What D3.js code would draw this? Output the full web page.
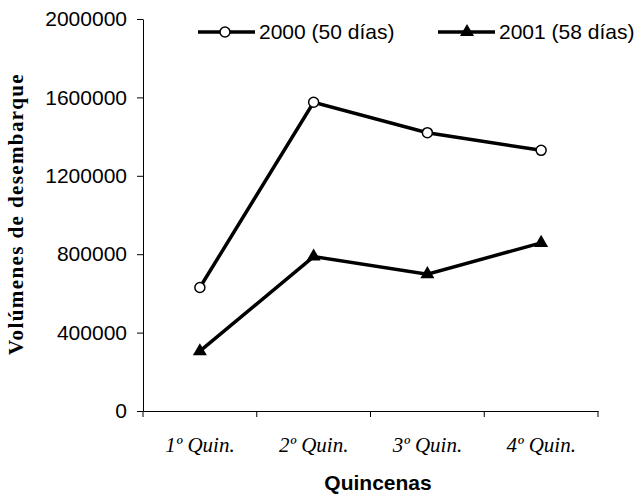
<!DOCTYPE html>
<html>
<head>
<meta charset="utf-8">
<script src="https://cdn.jsdelivr.net/npm/d3@7"></script>
<style>
	body { margin: 0; background: #fff; }
	svg { display: block; }
</style>
</head>
<body>
<div id="chart"></div>
<script>
var categories = ['1º Quin.', '2º Quin.', '3º Quin.', '4º Quin.'];
var seriesNames = ['2000 (50 días)', '2001 (58 días)'];
var values2000 = [630000, 1575000, 1420000, 1330000];
var values2001 = [305000, 788000, 698000, 858000];
var yTicks = [0, 400000, 800000, 1200000, 1600000, 2000000];

var width = 641, height = 498;
var margin = { left: 143, right: 43, top: 19, bottom: 87 };
var sans = 'Arial, "Liberation Sans", sans-serif';
var serif = '"Times New Roman", "Liberation Serif", serif';

var svg = d3.select('#chart').append('svg')
	.attr('width', width)
	.attr('height', height);

var x = d3.scaleBand()
	.domain(categories)
	.range([margin.left, width - margin.right]);

var y = d3.scaleLinear()
	.domain([0, 2000000])
	.range([height - margin.bottom, margin.top]);

// y axis
var yAxis = svg.append('g')
	.attr('transform', 'translate(' + margin.left + ',0)')
	.call(d3.axisLeft(y).tickValues(yTicks).tickSize(6).tickSizeOuter(0).tickFormat(d3.format('d')));
yAxis.selectAll('text')
	.attr('x', -16)
	.style('font-family', sans)
	.style('font-size', '21px')
	.attr('fill', '#000');

// x axis
var xAxis = svg.append('g')
	.attr('transform', 'translate(0,' + (height - margin.bottom) + ')')
	.call(d3.axisBottom(x).tickSize(0).tickSizeOuter(0));
xAxis.selectAll('text')
	.attr('dy', 0)
	.attr('y', 41)
	.style('font-family', serif)
	.style('font-style', 'italic')
	.style('font-size', '21px')
	.attr('fill', '#000');
// tick marks on band boundaries
xAxis.selectAll('.bound')
	.data(categories.concat(['end']))
	.enter().append('line')
	.attr('class', 'bound')
	.attr('x1', function(d, i){ return margin.left + i * x.bandwidth(); })
	.attr('x2', function(d, i){ return margin.left + i * x.bandwidth(); })
	.attr('y1', 0)
	.attr('y2', 6)
	.attr('stroke', '#000');
svg.selectAll('.domain').attr('stroke', '#000');

// axis titles
svg.append('text')
	.attr('transform', 'translate(23,214) rotate(-90)')
	.attr('text-anchor', 'middle')
	.style('font-family', serif)
	.style('font-weight', 'bold')
	.style('font-size', '21px')
	.style('letter-spacing', '1.4px')
	.text('Volúmenes de desembarque');

svg.append('text')
	.attr('x', 378)
	.attr('y', 490)
	.attr('text-anchor', 'middle')
	.style('font-family', sans)
	.style('font-weight', 'bold')
	.style('font-size', '21px')
	.text('Quincenas');

var line = d3.line()
	.x(function(d, i){ return x(categories[i]) + x.bandwidth() / 2; })
	.y(function(d){ return y(d); });

var triangle = d3.symbol().type(d3.symbolTriangle).size(85);

// series 2001 (triangles)
svg.append('path')
	.datum(values2001)
	.attr('d', line)
	.attr('fill', 'none')
	.attr('stroke', '#000')
	.attr('stroke-width', 3.5);
svg.selectAll('.tri')
	.data(values2001)
	.enter().append('path')
	.attr('class', 'tri')
	.attr('d', triangle)
	.attr('transform', function(d, i){
		return 'translate(' + (x(categories[i]) + x.bandwidth() / 2) + ',' + y(d) + ')';
	})
	.attr('fill', '#000');

// series 2000 (open circles)
svg.append('path')
	.datum(values2000)
	.attr('d', line)
	.attr('fill', 'none')
	.attr('stroke', '#000')
	.attr('stroke-width', 3.5);
svg.selectAll('.circ')
	.data(values2000)
	.enter().append('circle')
	.attr('class', 'circ')
	.attr('cx', function(d, i){ return x(categories[i]) + x.bandwidth() / 2; })
	.attr('cy', function(d){ return y(d); })
	.attr('r', 5)
	.attr('fill', '#fff')
	.attr('stroke', '#000')
	.attr('stroke-width', 1.5);

// legend
var legendX = [198, 438];
var legend = svg.selectAll('.legend')
	.data(seriesNames)
	.enter().append('g')
	.attr('class', 'legend')
	.attr('transform', function(d, i){ return 'translate(' + legendX[i] + ',32)'; });
legend.append('line')
	.attr('x1', 0).attr('x2', 57)
	.attr('y1', 0).attr('y2', 0)
	.attr('stroke', '#000')
	.attr('stroke-width', 3.5);
legend.each(function(d, i){
	var g = d3.select(this);
	if(i === 0){
		g.append('circle').attr('cx', 27).attr('cy', 0).attr('r', 5)
			.attr('fill', '#fff').attr('stroke', '#000').attr('stroke-width', 1.5);
	}else{
		g.append('path').attr('d', triangle).attr('transform', 'translate(29,0)').attr('fill', '#000');
	}
});
legend.append('text')
	.attr('x', 61)
	.attr('y', 7)
	.style('font-family', sans)
	.style('font-size', '21px')
	.text(function(d){ return d; });
</script>
</body>
</html>
